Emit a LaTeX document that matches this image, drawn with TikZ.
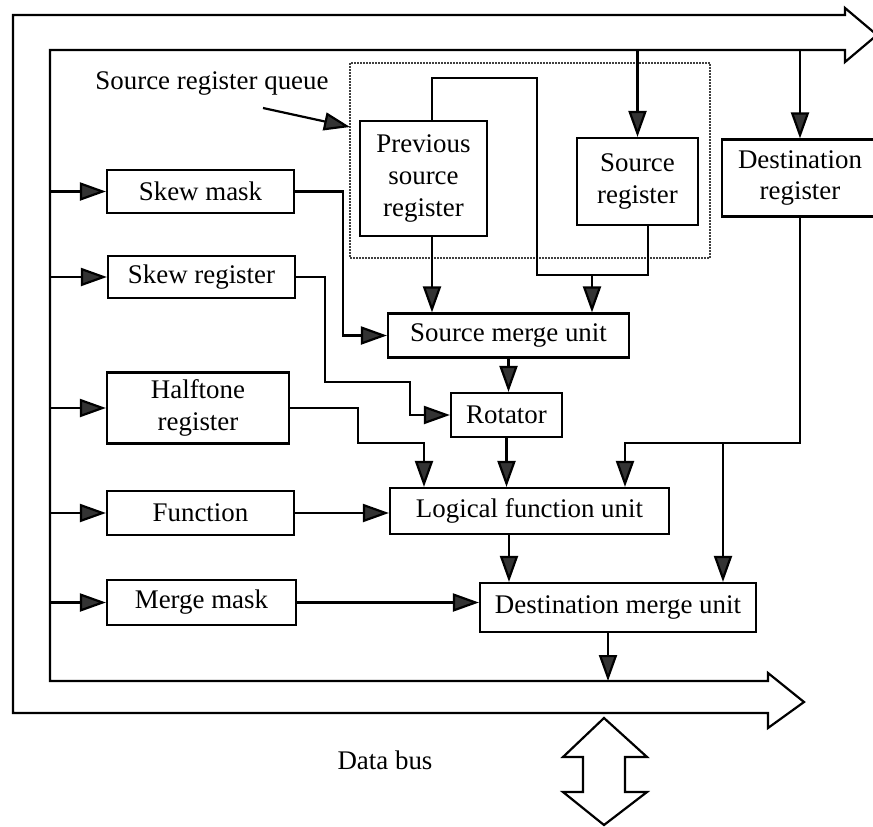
\documentclass[tikz,border=0pt]{standalone}
\usepackage{fontspec}
\setmainfont{Liberation Serif}
\usetikzlibrary{arrows.meta}
\begin{document}
\begin{tikzpicture}[x=1bp,y=-1bp, line width=2.2bp,
  box/.style={draw, inner sep=0pt, align=center, font=\fontsize{27}{32}\selectfont},
  lbl/.style={inner sep=0pt, font=\fontsize{27}{32}\selectfont},
  arr/.style={-{Triangle[length=26bp,width=18bp,fill=black!80]}},
  bus/.style={draw, line width=2.2bp, line join=miter},
  queue/.style={draw=black!75, line width=2bp, dash pattern=on 1.8bp off 1.2bp}]
\useasboundingbox (0,0) rectangle (873,827);

% ---- data bus (wide arrow band) ----
\draw[bus] (13,15) -- (845,15) -- (845,8) -- (877,35) -- (845,62) -- (845,50)
  -- (50,50) -- (50,681) -- (768,681) -- (768,673) -- (804,702) -- (768,728)
  -- (768,713) -- (13,713) -- cycle;
% bidirectional port below the bus
\draw[bus] (604,718) -- (647,757) -- (625,757) -- (625,792) -- (647,792)
  -- (604,825) -- (563,792) -- (583,792) -- (583,757) -- (563,757) -- cycle;
\node[lbl] (dbus) at (385,760) {Data bus};

% reference coordinates on the bus lines
\coordinate (busL) at (50,0);
\coordinate (busT) at (0,50);
\coordinate (busB) at (0,681);

% ---- source register queue ----
\draw[queue] (350,63) rectangle (710,258);
\node[lbl] (qlbl) at (212,83) {Source register queue};
\coordinate (qs) at (263,108);
\coordinate (qe) at (350,127);
\draw[arr] (qs) -- (qe);

% ---- registers and units ----
\node[box, minimum width=187bp, minimum height=43bp] (skm) at (200.5,191.5) {Skew mask};
\node[box, minimum width=187bp, minimum height=42bp] (skr) at (201.5,277) {Skew register};
\node[box, minimum width=182bp, minimum height=71bp] (hft) at (198,408) {Halftone\\register};
\node[box, minimum width=187bp, minimum height=44bp] (fun) at (200.5,513) {Function};
\node[box, minimum width=189bp, minimum height=45bp] (mmk) at (201.5,602.5) {Merge mask};

\node[box, minimum width=127bp, minimum height=115bp] (psr) at (423.5,178.5) {Previous\\source\\register};
\node[box, minimum width=121bp, minimum height=87bp] (srg) at (637.5,181.5) {Source\\register};
\node[box, minimum width=156bp, minimum height=77bp] (drg) at (800,178) {Destination\\register};

\node[box, minimum width=241bp, minimum height=44bp] (smu) at (508.5,335.5) {Source merge unit};
\node[box, minimum width=111bp, minimum height=44bp] (rot) at (506.5,415) {Rotator};
\node[box, minimum width=279bp, minimum height=46bp] (lfu) at (529.5,511) {Logical function unit};
\node[box, minimum width=276bp, minimum height=49bp] (dmu) at (618,607.5) {Destination merge unit};

% ---- bus to the register inputs ----
\foreach \n in {skm,skr,hft,fun,mmk}
  \draw[arr] (\n.west -| busL) -- (\n.west);
\draw[arr] (srg.north |- busT) -- (srg.north);
\draw[arr] (drg.north |- busT) -- (drg.north);

% ---- source register queue wiring ----
\coordinate (xp) at (432,0);
\coordinate (xs) at (648,0);
\coordinate (xq) at (592,0);
\coordinate (qloop) at (537,78);
\coordinate (qjoin) at (537,275);
\draw (xs |- srg.south) -- (xs |- qjoin) -- (qjoin) -- (qloop) -- (xp |- qloop) -- (xp |- psr.north);
\draw[arr] (xq |- qjoin) -- (xq |- smu.north);
\draw[arr] (xp |- psr.south) -- (xp |- smu.north);

% ---- masks and control registers ----
\coordinate (k1) at (343,0);
\draw[arr] (skm.east) -| (k1 |- smu.west) -- (smu.west);
\coordinate (k2) at (325,382);
\coordinate (k3) at (410,382);
\draw[arr] (skr.east) -| (k2) -- (k3) |- (rot.west);
\coordinate (k4) at (358,443);
\coordinate (k5) at (424,0);
\draw[arr] (hft.east) -| (k4) -| (k5 |- lfu.north);
\draw[arr] (fun.east) -- (fun.east -| lfu.west);
\draw[arr] (mmk.east) -- (mmk.east -| dmu.west);

% ---- datapath ----
\draw[arr] (smu.south) -- (smu.south |- rot.north);
\draw[arr] (rot.south) -- (rot.south |- lfu.north);
\coordinate (xr) at (509,0);
\draw[arr] (xr |- lfu.south) -- (xr |- dmu.north);

% ---- destination register feedback ----
\coordinate (d1) at (625,443);
\coordinate (d2) at (723,443);
\draw[arr] (drg.south) |- (d1) -- (d1 |- lfu.north);
\draw[arr] (d2) -- (d2 |- dmu.north);

% ---- result back onto the bus ----
\coordinate (xo) at (608,0);
\draw[arr] (xo |- dmu.south) -- (xo |- busB);

\end{tikzpicture}
\end{document}
